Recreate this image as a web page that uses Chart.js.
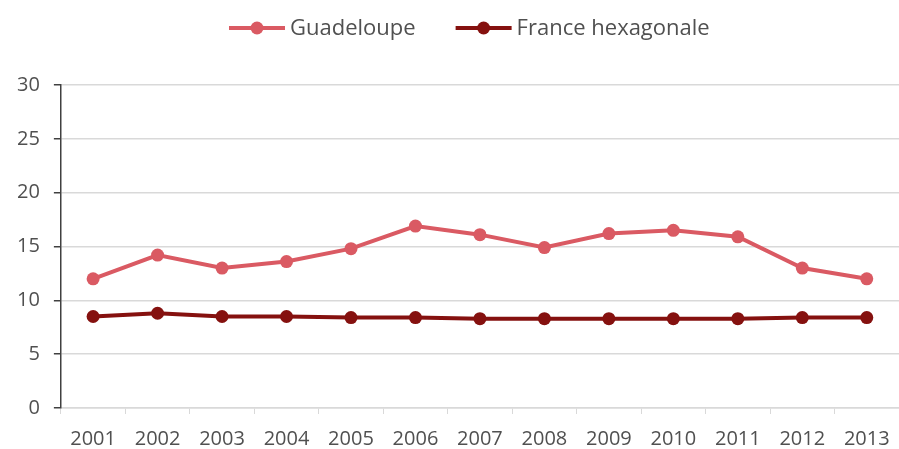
<!DOCTYPE html>
<html>
<head>
<meta charset="utf-8">
<script src="https://cdn.jsdelivr.net/npm/chart.js@4.4.1/dist/chart.umd.min.js"></script>
<style>
    html, body { margin: 0; padding: 0; background: #fff; }
    #wrap { width: 899px; height: 449px; position: relative; }
</style>
</head>
<body>
<div id="wrap"><canvas id="lineChart"></canvas></div>
<script>
const years = ['2001', '2002', '2003', '2004', '2005', '2006', '2007', '2008', '2009', '2010', '2011', '2012', '2013'];
const guadeloupe = [12.0, 14.2, 13.0, 13.6, 14.8, 16.9, 16.1, 14.9, 16.2, 16.5, 15.9, 13.0, 12.0];
const franceHex = [8.5, 8.8, 8.5, 8.5, 8.4, 8.4, 8.3, 8.3, 8.3, 8.3, 8.3, 8.4, 8.4];
const yTicks = [0, 5, 10, 15, 20, 25, 30];

const FONT = '"Open Sans", "Liberation Sans", sans-serif';
const TEXT = '#505050';

// legend drawn by hand: line + dot sample, like the spreadsheet one
const lineLegend = {
    id: 'lineLegend',
    afterDraw(chart) {
        const ctx = chart.ctx;
        const y = 28;
        let x = 229;
        ctx.save();
        ctx.font = '22px ' + FONT;
        ctx.textBaseline = 'middle';
        chart.data.datasets.forEach(function(ds) {
            ctx.strokeStyle = ds.borderColor;
            ctx.lineWidth = 4;
            ctx.beginPath();
            ctx.moveTo(x, y);
            ctx.lineTo(x + 56, y);
            ctx.stroke();
            ctx.fillStyle = ds.pointBackgroundColor;
            ctx.beginPath();
            ctx.arc(x + 28, y, 6.5, 0, Math.PI * 2);
            ctx.fill();
            ctx.fillStyle = TEXT;
            ctx.fillText(ds.label, x + 61, y + 1);
            x += 61 + ctx.measureText(ds.label).width + 40;
        });
        ctx.restore();
    }
};

const ctx = document.getElementById('lineChart').getContext('2d');
const lineChart = new Chart(ctx, {
    type: 'line',
    data: {
        labels: years,
        datasets: [{
            label: 'Guadeloupe',
            data: guadeloupe,
            borderColor: '#DA5A63',
            pointBackgroundColor: '#DA5A63',
            borderWidth: 4,
            pointRadius: 6.5,
            pointBorderWidth: 0,
            tension: 0
        }, {
            label: 'France hexagonale',
            data: franceHex,
            borderColor: '#85110F',
            pointBackgroundColor: '#85110F',
            borderWidth: 4,
            pointRadius: 6.5,
            pointBorderWidth: 0,
            tension: 0
        }]
    },
    options: {
        responsive: true,
        maintainAspectRatio: false,
        animation: false,
        layout: {
            autoPadding: false,
            padding: { top: 85, left: 3, right: 0, bottom: -15 }
        },
        plugins: {
            legend: { display: false },
            tooltip: { enabled: false }
        },
        scales: {
            x: {
                offset: true,
                afterFit: function(axis) {
                    axis.paddingRight = 0;
                },
                grid: {
                    offset: true,
                    drawOnChartArea: false,
                    drawTicks: true,
                    tickLength: 6,
                    tickColor: '#d9d9d9'
                },
                border: { color: '#d9d9d9', width: 1.5 },
                ticks: {
                    color: TEXT,
                    font: { family: FONT, size: 20 },
                    padding: 13,
                    maxRotation: 0
                }
            },
            y: {
                min: 0,
                max: 30,
                afterBuildTicks: function(axis) {
                    axis.ticks = yTicks.map(function(v) { return { value: v }; });
                },
                grid: {
                    color: '#d9d9d9',
                    lineWidth: 1.5,
                    tickLength: 7,
                    tickColor: '#404040'
                },
                border: { color: '#404040', width: 1.5 },
                ticks: {
                    color: TEXT,
                    font: { family: FONT, size: 20 },
                    padding: 14
                }
            }
        }
    },
    plugins: [lineLegend]
});
</script>
</body>
</html>
